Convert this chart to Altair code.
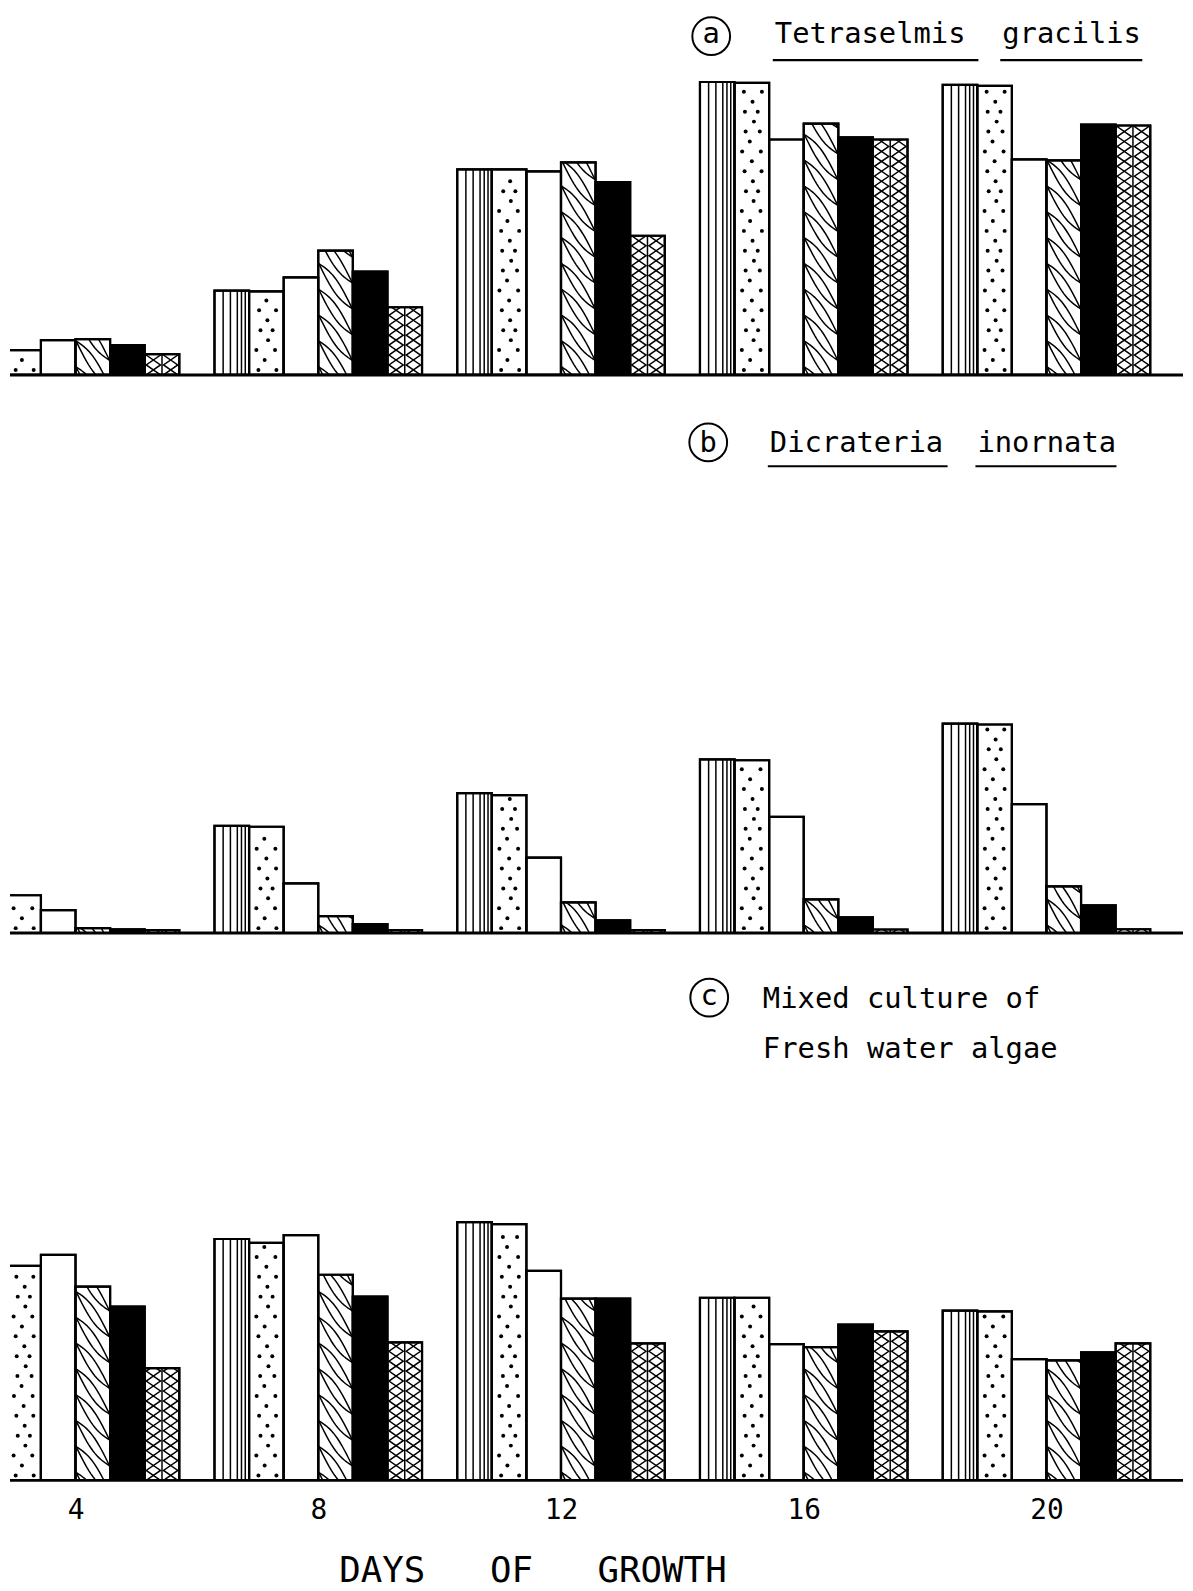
import math
import altair as alt
import numpy as np
import pandas as pd

# ---------------- data (arbitrary units) ----------------
DAYS = [4, 8, 12, 16, 20]
TREATMENTS = ["vertical", "dotted", "open", "hatched", "solid", "cross"]

# rows = treatments (in TREATMENTS order), columns = DAYS
TETRASELMIS = [
    [8.7, 28.3, 69.0, 98.3, 97.3],
    [8.3, 28.0, 69.0, 98.0, 97.0],
    [11.7, 32.7, 68.3, 79.0, 72.3],
    [12.0, 41.7, 71.3, 84.3, 72.0],
    [10.0, 34.7, 64.7, 79.7, 84.0],
    [7.0, 22.7, 46.7, 79.0, 83.7],
]
DICRATERIA = [
    [12.7, 36.0, 47.0, 58.3, 70.3],
    [12.7, 35.7, 46.3, 58.0, 70.0],
    [7.7, 16.7, 25.3, 39.0, 43.3],
    [1.7, 5.7, 10.3, 11.3, 15.7],
    [1.3, 3.0, 4.3, 5.3, 9.3],
    [1.0, 1.0, 1.0, 1.2, 1.3],
]
MIXED = [
    [72.0, 81.0, 86.7, 61.3, 57.0],
    [72.0, 79.7, 86.0, 61.3, 56.7],
    [75.7, 82.3, 70.3, 45.7, 40.7],
    [65.0, 69.0, 61.0, 44.7, 40.3],
    [58.3, 61.7, 61.0, 52.3, 43.0],
    [37.7, 46.3, 46.0, 50.0, 46.0],
]
AXIS_TITLE = "DAYS\u00a0\u00a0\u00a0OF\u00a0\u00a0\u00a0GROWTH"

# ---------------- layout / style ----------------
MONO = "DejaVu Sans Mono"
W = 1181
XMIN, XMAX = 2.92, 22.25
PXD = W / (XMAX - XMIN)        # pixels per day
BW = 0.57                      # bar width in days
UNIT = 3.0                     # pixels per value unit
FILLS = ["white", "white", "white", "white", "black", "white"]
VFRAC = [0.25, 0.46, 0.66, 0.78, 0.89]
ONE = pd.DataFrame({"_": [0]})


def clip_poly(pts, lo, hi):
    out, cur = [], []
    for (xa, ya), (xb, yb) in zip(pts[:-1], pts[1:]):
        t0, t1, ok = 0.0, 1.0, True
        dy = yb - ya
        for bound, sign in ((lo, 1.0), (hi, -1.0)):
            p = sign * dy
            q = sign * (ya - bound)
            if abs(p) < 1e-12:
                if q < 0:
                    ok = False
            else:
                t = -q / p
                if p > 0:
                    t0 = max(t0, t)
                else:
                    t1 = min(t1, t)
        if not ok or t0 > t1:
            if cur:
                out.append(cur)
                cur = []
            continue
        A = (xa + (xb - xa) * t0, ya + dy * t0)
        B = (xa + (xb - xa) * t1, ya + dy * t1)
        if not cur:
            cur = [A]
        elif abs(cur[-1][0] - A[0]) > 1e-9 or abs(cur[-1][1] - A[1]) > 1e-9:
            out.append(cur)
            cur = [A]
        cur.append(B)
        if t1 < 1.0:
            out.append(cur)
            cur = []
    if cur:
        out.append(cur)
    return [c for c in out if len(c) >= 2]


def build(vals):
    bars, vr, dots, lines = [], [], [], []
    lid = 0
    wpx = BW * PXD
    for k, t in enumerate(TREATMENTS):
        for j, d in enumerate(DAYS):
            v = vals[k][j]
            x0 = d - 3 * BW + k * BW
            bars.append({"x0": x0, "x1": x0 + BW, "v": v, "t": t})
            hp = v * UNIT
            if t == "vertical":
                for f in VFRAC:
                    vr.append({"x": x0 + f * BW, "v": v})
            elif t == "dotted":
                i = 0
                wob = [0.0, 0.06, -0.05, 0.03, -0.06, 0.02, 0.05]
                y = 5.0
                while y <= hp - 3.5:
                    fr = [0.27, 0.73] if i % 2 == 0 else [0.5]
                    for m, f in enumerate(fr):
                        ff = f + wob[(i * 2 + m) % len(wob)]
                        dots.append({"x": x0 + ff * BW, "y": y / UNIT})
                    i += 1
                    y += 10.0
            elif t == "hatched":
                drop = 1.3 * wpx
                step = 26.0
                y0 = 8.0
                while y0 < hp + drop:
                    for bow in (7.5, -7.5):
                        pts = []
                        for tt in np.linspace(0, 1, 17):
                            pts.append((0.6 + tt * (wpx - 1.2),
                                        y0 - drop * tt + bow * math.sin(math.pi * tt)))
                        for piece in clip_poly(pts, 0.0, hp):
                            for o, (px, py) in enumerate(piece):
                                lines.append({"x": x0 + px / PXD, "y": py / UNIT,
                                              "id": lid, "o": o})
                            lid += 1
                    y0 += step
            elif t == "cross":
                half = wpx / 2
                vr.append({"x": x0 + BW / 2, "v": v})
                vs = 10.0
                for h in (0, 1):
                    xl = h * half + 1.5
                    xr = (h + 1) * half - 1.5
                    for ph in (0, 1):
                        pts = []
                        i = 0
                        while True:
                            y = i * vs
                            pts.append((xl if (i + ph) % 2 == 0 else xr, y))
                            if y >= hp:
                                break
                            i += 1
                        for piece in clip_poly(pts, 0.0, hp):
                            for o, (px, py) in enumerate(piece):
                                lines.append({"x": x0 + px / PXD, "y": py / UNIT,
                                              "id": lid, "o": o})
                            lid += 1
    return (pd.DataFrame(bars), pd.DataFrame(vr), pd.DataFrame(dots),
            pd.DataFrame(lines))


def label(txt, x, y, size=29, align="left"):
    return alt.Chart(ONE).mark_text(text=txt, font=MONO, fontSize=size, align=align,
                                    baseline="alphabetic", color="black").encode(
        x=alt.value(x), y=alt.value(y))


def circle(x, y, d=38):
    return alt.Chart(ONE).mark_point(shape="circle", size=d * d, filled=False,
                                     color="black", strokeWidth=2, opacity=1).encode(
        x=alt.value(x), y=alt.value(y))


def uline(x1, x2, y):
    return alt.Chart(ONE).mark_rule(color="black", strokeWidth=2.2).encode(
        x=alt.value(x1), x2=alt.value(x2), y=alt.value(y))


def panel(vals, H, deco, axis=False):
    bars, vr, dots, lines = build(vals)
    xs = alt.Scale(domain=[XMIN, XMAX], nice=False, zero=False)
    ys = alt.Scale(domain=[0, H / UNIT], nice=False, zero=False)
    if axis:
        ax = alt.Axis(values=DAYS, title=AXIS_TITLE, format="d", domain=False,
                      ticks=False, grid=False, labelFont=MONO, labelFontSize=28,
                      labelColor="black", labelPadding=16, labelFlush=False,
                      titleFont=MONO, titleFontSize=36, titleFontWeight="normal",
                      titleColor="black", titleX=526, titleY=74,
                      titleBaseline="top", titleAlign="center")
    else:
        ax = None
    b = alt.Chart(bars).mark_bar(stroke="black", strokeWidth=2.2, clip=True).encode(
        x=alt.X("x0:Q", scale=xs, axis=ax),
        x2="x1:Q",
        y=alt.Y("v:Q", scale=ys, axis=None),
        y2=alt.datum(0),
        fill=alt.Fill("t:N", scale=alt.Scale(domain=TREATMENTS, range=FILLS),
                      legend=None),
    )
    r = alt.Chart(vr).mark_rule(color="black", strokeWidth=1.5, clip=True).encode(
        x=alt.X("x:Q", scale=xs, axis=ax),
        y=alt.Y("v:Q", scale=ys, axis=None),
        y2=alt.datum(0),
    )
    p = alt.Chart(dots).mark_point(shape="circle", filled=True, size=16,
                                   color="black", opacity=1, clip=True).encode(
        x=alt.X("x:Q", scale=xs, axis=ax),
        y=alt.Y("y:Q", scale=ys, axis=None),
    )
    ln = alt.Chart(lines).mark_line(color="black", strokeWidth=1.5, clip=True).encode(
        x=alt.X("x:Q", scale=xs, axis=ax),
        y=alt.Y("y:Q", scale=ys, axis=None),
        detail="id:N",
        order="o:Q",
    )
    outline = alt.Chart(bars).mark_bar(fill=None, fillOpacity=0, stroke="black",
                                       strokeWidth=2.2, clip=True).encode(
        x=alt.X("x0:Q", scale=xs, axis=ax),
        x2="x1:Q",
        y=alt.Y("v:Q", scale=ys, axis=None),
        y2=alt.datum(0),
    )
    base = alt.Chart(ONE).mark_rule(color="black", strokeWidth=3).encode(
        x=alt.value(0), x2=alt.value(W), y=alt.Y(datum=0, scale=ys, axis=None))
    return alt.layer(b, r, p, ln, outline, base, *deco).properties(width=W, height=H)


HA, HB, HC = 359, 562, 551

deco_a = [circle(706, 18), label("a", 706, 25, align="center"),
          label("Tetraselmis", 770, 25), label("gracilis", 999, 25),
          uline(768, 975, 42), uline(997, 1140, 42)]
deco_b = [circle(703, 68), label("b", 703, 78, align="center"),
          label("Dicrateria", 765, 78), label("inornata", 974, 78),
          uline(763, 944, 92), uline(972, 1114, 92)]
deco_c = [circle(704, 65), label("c", 704, 72, align="center"),
          label("Mixed culture of", 758, 75), label("Fresh water algae", 758, 126)]

pa = panel(TETRASELMIS, HA, deco_a)
pb = panel(DICRATERIA, HB, deco_b)
pc = panel(MIXED, HC, deco_c, axis=True)

chart = alt.vconcat(pa, pb, pc, spacing=0).properties(
    padding=0, bounds="flush", background="white"
).configure_view(stroke=None)

chart.save("out.html", embed_options={"renderer": "svg", "actions": False})
